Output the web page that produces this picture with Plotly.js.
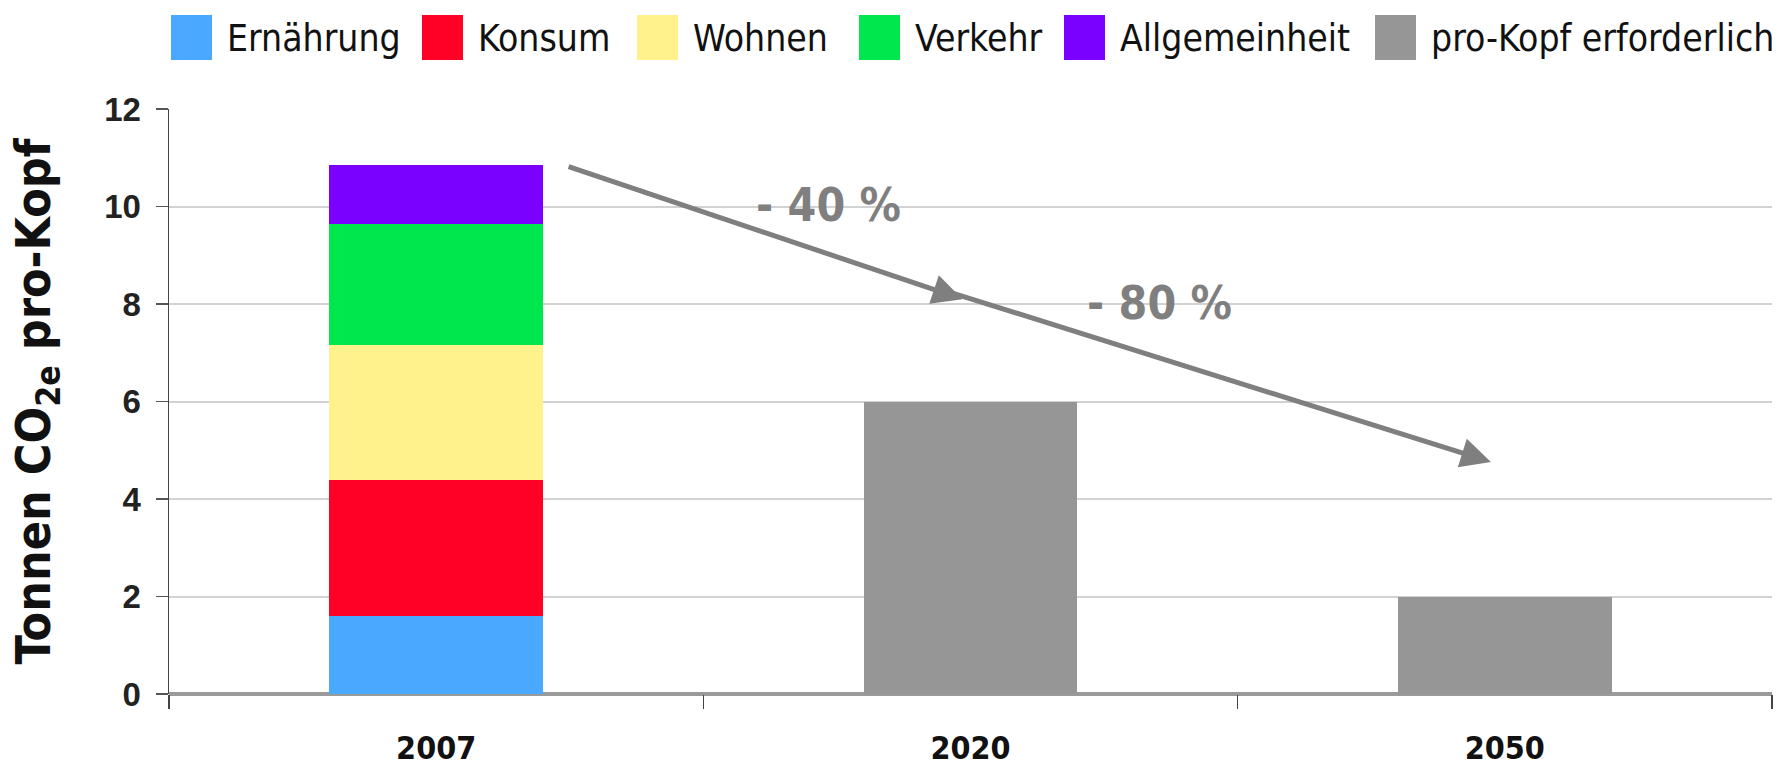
<!DOCTYPE html>
<html>
<head>
<meta charset="utf-8">
<script src="https://cdn.plot.ly/plotly-3.0.1.min.js"></script>
<style>
html,body{margin:0;padding:0;background:#fff;}
#chart{width:1787px;height:768px;}
</style>
</head>
<body>
<div id="chart"></div>
<script>
// ---- data ----
const categories = ['2007', '2020', '2050'];
const ernaehrung = [1.6, null, null];
const konsum = [2.8, null, null];
const wohnen = [2.75, null, null];
const verkehr = [2.5, null, null];
const allgemeinheit = [1.2, null, null];
const proKopf = [null, 6, 2];
const seriesNames = ['Ernährung', 'Konsum', 'Wohnen', 'Verkehr', 'Allgemeinheit', 'pro-Kopf erforderlich'];
const seriesValues = [ernaehrung, konsum, wohnen, verkehr, allgemeinheit, proKopf];
const seriesColors = ['#4aa8ff', '#ff0026', '#fff18c', '#00e64d', '#7a00ff', '#969696'];
const yTicks = [0, 2, 4, 6, 8, 10, 12];
// reduction arrows: tail / head on category-index / value scale
const arrowTails = [[0.245, 10.83], [0.953, 8.27]];
const arrowHeads = [[0.985, 8.10], [1.974, 4.76]];
const arrowLabels = ['- 40 %', '- 80 %'];
const arrowLabelPos = [[0.734, 10.03], [1.354, 8.02]];

// ---- layout helpers ----
const W = 1787, H = 768;
const M = {l: 169, r: 15, t: 109, b: 74};
const px2x = p => (p - M.l) / (W - M.l - M.r);
const px2y = p => (H - M.b - p) / (H - M.t - M.b);
const NARROW = 'DejaVu Sans Condensed, DejaVu Sans, sans-serif';

const traces = seriesNames.map((name, i) => ({
  type: 'bar',
  name: name,
  x: categories,
  y: seriesValues[i],
  marker: {color: seriesColors[i], line: {width: 0}},
  hoverinfo: 'x+y+name'
}));

// custom legend (large square swatches like the original)
const legendSquareX = [171, 422, 637, 859, 1064, 1375];
const SQ_W = 41, SQ_TOP = 15, SQ_BOT = 60;
const shapes = [];
const annotations = [];
seriesNames.forEach((name, i) => {
  shapes.push({
    type: 'rect', xref: 'paper', yref: 'paper',
    x0: px2x(legendSquareX[i]), x1: px2x(legendSquareX[i] + SQ_W),
    y0: px2y(SQ_BOT), y1: px2y(SQ_TOP),
    fillcolor: seriesColors[i], line: {width: 0}
  });
  annotations.push({
    xref: 'paper', yref: 'paper', xanchor: 'left', yanchor: 'middle',
    x: px2x(legendSquareX[i] + SQ_W + 13), y: px2y(39),
    text: name, showarrow: false,
    font: {family: NARROW, size: 37, color: '#111'}
  });
});

arrowTails.forEach((t, i) => {
  annotations.push({
    x: arrowHeads[i][0], y: arrowHeads[i][1], xref: 'x', yref: 'y',
    ax: t[0], ay: t[1], axref: 'x', ayref: 'y',
    text: '', showarrow: true, arrowhead: 2, arrowsize: 1.2, arrowwidth: 5,
    arrowcolor: '#7f7f7f', standoff: 0, startstandoff: 0
  });
  annotations.push({
    x: arrowLabelPos[i][0], y: arrowLabelPos[i][1], xref: 'x', yref: 'y',
    text: arrowLabels[i], showarrow: false,
    font: {family: NARROW, size: 46, color: '#7f7f7f', weight: 'bold'}
  });
});

const layout = {
  width: W, height: H,
  margin: M,
  paper_bgcolor: '#fff', plot_bgcolor: '#fff',
  barmode: 'stack',
  bargap: 0.6,
  showlegend: false,
  xaxis: {
    type: 'category',
    tickvals: categories,
    ticktext: categories,
    ticks: 'outside', tickson: 'boundaries', ticklen: 14, tickwidth: 1.5, tickcolor: '#444',
    ticklabelstandoff: 32,
    showgrid: false, showline: false, zeroline: false,
    tickfont: {family: NARROW, size: 32, color: '#111', weight: 'bold'},
    fixedrange: true
  },
  yaxis: {
    range: [0, 12],
    tickvals: yTicks,
    ticks: 'outside', ticklen: 12, tickwidth: 1.5, tickcolor: '#555',
    ticklabelstandoff: 8,
    showline: true, linecolor: '#444', linewidth: 1.5,
    gridcolor: '#d2d2d2', gridwidth: 2,
    zeroline: true, zerolinecolor: '#9a9a9a', zerolinewidth: 4,
    tickfont: {family: 'Liberation Sans, Arial, sans-serif', size: 33, color: '#222', weight: 'bold'},
    title: {
      text: 'Tonnen CO<sub>2e</sub> pro-Kopf',
      font: {family: NARROW, size: 48, color: '#111', weight: 'bold'},
      standoff: 38
    },
    fixedrange: true
  },
  shapes: shapes,
  annotations: annotations
};

Plotly.newPlot('chart', traces, layout, {displayModeBar: false, staticPlot: true});
</script>
</body>
</html>
